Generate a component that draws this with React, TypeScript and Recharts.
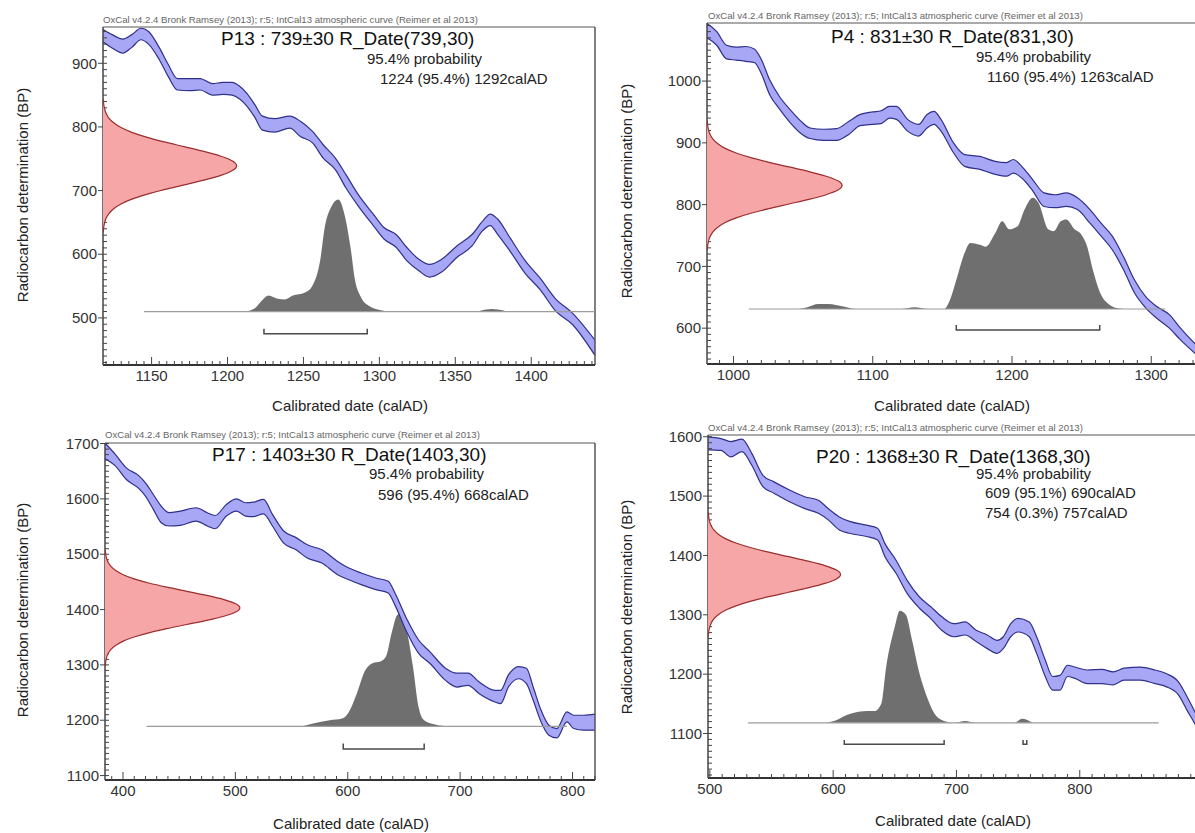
import { ComposedChart, Area, Line, XAxis, YAxis, ReferenceLine } from "recharts";

const FONT = "'Liberation Sans', Arial, Helvetica, sans-serif";

const oxcalNote =
  "OxCal v4.2.4 Bronk Ramsey (2013); r:5; IntCal13 atmospheric curve (Reimer et al 2013)";
const xTitle = "Calibrated date (calAD)";
const yTitle = "Radiocarbon determination (BP)";

// shape of the R_Date (relative height, offsets in sigma)
const rdateOffsets = [
  -3.5, -3.25, -3, -2.75, -2.5, -2.25, -2, -1.75, -1.5, -1.25, -1, -0.75, -0.5, -0.25, 0,
  0.25, 0.5, 0.75, 1, 1.25, 1.5, 1.75, 2, 2.25, 2.5, 2.75, 3, 3.25, 3.5,
];
const rdateShape = [
  0.002, 0.005, 0.011, 0.023, 0.044, 0.08, 0.135, 0.216, 0.325, 0.458, 0.607, 0.755, 0.882, 0.969, 1,
  0.969, 0.882, 0.755, 0.607, 0.458, 0.325, 0.216, 0.135, 0.08, 0.044, 0.023, 0.011, 0.005, 0.002,
];

// ---- P13
const p13Years = [1118, 1124, 1131, 1137, 1143, 1148, 1155, 1161, 1167, 1175, 1182, 1190, 1197, 1203, 1208, 1213, 1218, 1223, 1231, 1241, 1248, 1256, 1263, 1271, 1278, 1286, 1296, 1303, 1311, 1318, 1326, 1333, 1341, 1351, 1361, 1368, 1373, 1378, 1386, 1396, 1406, 1416, 1427, 1442];
const p13Hi = [953, 945, 938, 945, 955, 950, 925, 898, 876, 876, 876, 868, 870, 870, 864, 852, 835, 817, 813, 817, 809, 793, 772, 751, 725, 694, 663, 642, 631, 611, 592, 584, 592, 613, 631, 652, 663, 655, 626, 590, 562, 530, 508, 465];
const p13Lo = [934, 924, 916, 925, 937, 930, 906, 879, 858, 857, 858, 850, 851, 850, 844, 832, 815, 795, 792, 798, 785, 775, 751, 733, 704, 676, 645, 624, 611, 590, 574, 564, 572, 595, 613, 637, 645, 631, 605, 570, 544, 511, 490, 441];
const p13PostYears = [1212, 1218, 1223, 1227, 1233, 1238, 1243, 1251, 1256, 1261, 1264, 1268, 1273, 1277, 1281, 1284, 1288, 1293, 1301, 1308, 1364, 1370, 1374, 1378, 1384];
const p13PostTop = [510, 515, 528, 535, 530, 529, 535, 540, 551, 590, 642, 673, 686, 663, 611, 559, 532, 519, 512, 510, 510, 513, 514, 513, 510];
const p13Base = 510;
const p13Span = [1145, 1442];
const p13Ranges = [[1224, 1292]];
const p13Bracket = [475, 483];
const p13Date = [739, 30];
const p13Peak = 1206;
const p13Title = "P13 : 739±30 R_Date(739,30)";
const p13Text = ["95.4% probability", "1224 (95.4%) 1292calAD"];
const p13XLabels = [1150, 1200, 1250, 1300, 1350, 1400];
const p13YLabels = [500, 600, 700, 800, 900];

// ---- P4
const p4Years = [981, 988, 995, 1002, 1009, 1015, 1020, 1026, 1033, 1041, 1048, 1055, 1065, 1074, 1083, 1091, 1100, 1106, 1112, 1117, 1125, 1133, 1139, 1144, 1149, 1158, 1166, 1177, 1188, 1196, 1201, 1207, 1215, 1223, 1231, 1239, 1247, 1256, 1264, 1272, 1280, 1288, 1296, 1304, 1313, 1321, 1331, 1335];
const p4Hi = [1093, 1080, 1058, 1055, 1056, 1052, 1035, 1002, 975, 953, 936, 924, 922, 923, 935, 946, 950, 952, 959, 959, 938, 930, 946, 951, 938, 900, 881, 878, 870, 868, 873, 862, 840, 819, 816, 819, 811, 792, 770, 749, 716, 678, 651, 635, 622, 600, 576, 568];
const p4Lo = [1070, 1058, 1036, 1034, 1032, 1030, 1012, 978, 955, 932, 916, 907, 904, 904, 914, 928, 930, 931, 940, 938, 919, 911, 924, 930, 919, 884, 862, 857, 849, 846, 851, 843, 822, 797, 795, 797, 792, 770, 749, 727, 695, 657, 633, 616, 600, 581, 560, 552];
const p4PostYears = [1012, 1045, 1053, 1061, 1068, 1079, 1088, 1120, 1130, 1140, 1151, 1156, 1160, 1166, 1170, 1177, 1181, 1188, 1193, 1198, 1204, 1209, 1215, 1219, 1226, 1230, 1235, 1239, 1245, 1250, 1254, 1258, 1264, 1270, 1277, 1285];
const p4PostTop = [631, 631, 634, 639, 639, 635, 631, 631, 634, 631, 631, 649, 678, 722, 738, 735, 732, 754, 773, 760, 765, 792, 811, 803, 760, 757, 773, 776, 760, 751, 732, 695, 654, 638, 632, 631];
const p4Base = 631;
const p4Span = [1011, 1310];
const p4Ranges = [[1160, 1263]];
const p4Bracket = [597, 605];
const p4Date = [831, 30];
const p4Peak = 1078;
const p4Title = "P4 : 831±30 R_Date(831,30)";
const p4Text = ["95.4% probability", "1160 (95.4%) 1263calAD"];
const p4XLabels = [1000, 1100, 1200, 1300];
const p4YLabels = [600, 700, 800, 900, 1000];

// ---- P17
const p17Years = [384, 393, 403, 414, 420, 427, 434, 441, 451, 465, 475, 482, 492, 501, 509, 516, 525, 533, 543, 554, 564, 577, 591, 601, 612, 625, 636, 642, 653, 663, 673, 687, 697, 707, 717, 731, 736, 743, 752, 759, 765, 772, 779, 786, 795, 801, 810, 820];
const p17Hi = [1701, 1681, 1656, 1642, 1629, 1608, 1587, 1575, 1578, 1584, 1575, 1570, 1590, 1600, 1593, 1594, 1599, 1572, 1542, 1530, 1517, 1508, 1487, 1475, 1466, 1457, 1451, 1430, 1381, 1345, 1324, 1294, 1285, 1285, 1269, 1254, 1254, 1282, 1297, 1294, 1260, 1218, 1191, 1185, 1215, 1209, 1209, 1211];
const p17Lo = [1673, 1660, 1635, 1619, 1605, 1581, 1557, 1551, 1552, 1560, 1551, 1546, 1569, 1578, 1569, 1568, 1573, 1551, 1520, 1508, 1493, 1484, 1463, 1454, 1445, 1436, 1430, 1408, 1357, 1321, 1303, 1272, 1260, 1263, 1248, 1233, 1230, 1260, 1275, 1266, 1236, 1197, 1173, 1168, 1197, 1185, 1182, 1182];
const p17PostYears = [560, 571, 584, 595, 601, 608, 615, 622, 629, 634, 639, 644, 647, 653, 658, 663, 668, 676, 687];
const p17PostTop = [1189, 1195, 1200, 1203, 1215, 1248, 1288, 1303, 1306, 1315, 1357, 1390, 1393, 1357, 1297, 1224, 1200, 1193, 1189];
const p17Base = 1189;
const p17Span = [421, 795];
const p17Ranges = [[596, 668]];
const p17Bracket = [1148, 1158];
const p17Date = [1403, 30];
const p17Peak = 504;
const p17Title = "P17 : 1403±30 R_Date(1403,30)";
const p17Text = ["95.4% probability", "596 (95.4%) 668calAD"];
const p17XLabels = [400, 500, 600, 700, 800];
const p17YLabels = [1100, 1200, 1300, 1400, 1500, 1600, 1700];

// ---- P20
const p20Years = [498.5, 509, 517, 526, 534, 543, 552, 565, 577, 588, 596, 605, 614, 627, 636, 642, 651, 660, 670, 679, 688, 698, 707, 716, 725, 733, 738, 744, 750, 759, 765, 772, 778, 784, 790, 796, 806, 818, 827, 836, 849, 861, 870, 880, 887, 894, 897.5];
const p20Hi = [1600, 1597, 1592, 1596, 1572, 1535, 1524, 1510, 1499, 1493, 1479, 1465, 1457, 1451, 1446, 1420, 1392, 1358, 1330, 1314, 1297, 1285, 1288, 1274, 1266, 1257, 1263, 1285, 1294, 1288, 1263, 1224, 1196, 1198, 1215, 1212, 1207, 1208, 1204, 1210, 1212, 1207, 1201, 1187, 1162, 1134, 1120];
const p20Lo = [1578, 1577, 1566, 1575, 1552, 1516, 1505, 1490, 1479, 1471, 1460, 1443, 1437, 1432, 1426, 1398, 1370, 1336, 1311, 1294, 1274, 1263, 1266, 1255, 1243, 1235, 1243, 1263, 1271, 1263, 1235, 1196, 1173, 1173, 1196, 1193, 1184, 1184, 1182, 1190, 1190, 1184, 1179, 1165, 1139, 1114, 1100];
const p20PostYears = [593, 602, 611, 617, 627, 634, 639, 643, 650, 654, 659, 664, 670, 676, 682, 690, 698, 707, 716, 747, 753, 762];
const p20PostTop = [1118, 1122, 1131, 1135, 1138, 1138, 1150, 1212, 1280, 1307, 1300, 1257, 1201, 1162, 1134, 1121, 1118, 1121, 1118, 1118, 1125, 1118];
const p20Base = 1118;
const p20Span = [531, 864];
const p20Ranges = [[609, 690], [754, 757]];
const p20Bracket = [1082, 1089];
const p20Date = [1368, 30];
const p20Peak = 606;
const p20Title = "P20 : 1368±30 R_Date(1368,30)";
const p20Text = ["95.4% probability", "609 (95.1%) 690calAD", "754 (0.3%) 757calAD"];
const p20XLabels = [500, 600, 700, 800];
const p20YLabels = [1100, 1200, 1300, 1400, 1500, 1600];

const panels = [
  { years: p13Years, hi: p13Hi, lo: p13Lo, postYears: p13PostYears, postTop: p13PostTop, base: p13Base, span: p13Span, ranges: p13Ranges, bracket: p13Bracket, date: p13Date, peak: p13Peak, title: p13Title, text: p13Text, xLabels: p13XLabels, yLabels: p13YLabels },
  { years: p4Years, hi: p4Hi, lo: p4Lo, postYears: p4PostYears, postTop: p4PostTop, base: p4Base, span: p4Span, ranges: p4Ranges, bracket: p4Bracket, date: p4Date, peak: p4Peak, title: p4Title, text: p4Text, xLabels: p4XLabels, yLabels: p4YLabels },
  { years: p17Years, hi: p17Hi, lo: p17Lo, postYears: p17PostYears, postTop: p17PostTop, base: p17Base, span: p17Span, ranges: p17Ranges, bracket: p17Bracket, date: p17Date, peak: p17Peak, title: p17Title, text: p17Text, xLabels: p17XLabels, yLabels: p17YLabels },
  { years: p20Years, hi: p20Hi, lo: p20Lo, postYears: p20PostYears, postTop: p20PostTop, base: p20Base, span: p20Span, ranges: p20Ranges, bracket: p20Bracket, date: p20Date, peak: p20Peak, title: p20Title, text: p20Text, xLabels: p20XLabels, yLabels: p20YLabels },
];

// page layout of each panel (plot frame in page pixels)
const layouts = [
  { left: 103, top: 27, right: 595, bottom: 365, x: [1118, 1442], y: [426, 957], xStep: 5, note: [103, 20], title: [221, 38], lines: [[367, 58], [380, 78]], yT: [22, 195], xT: [350, 405] },
  { left: 707, top: 23, right: 1200, bottom: 364, x: [981, 1335], y: [542, 1094], xStep: 10, note: [708, 16], title: [831, 36], lines: [[976, 56], [987, 76]], yT: [626, 191], xT: [952, 405] },
  { left: 105, top: 443, right: 595, bottom: 780, x: [384, 820], y: [1092, 1701], xStep: 10, note: [105, 435], title: [212, 454], lines: [[369, 473], [378, 494]], yT: [22, 610], xT: [351, 823] },
  { left: 708, top: 435, right: 1200, bottom: 778, x: [498.5, 897.5], y: [1025, 1603], xStep: 10, note: [708, 428], title: [816, 456], lines: [[976, 473], [985, 492], [985, 512]], yT: [626, 607], xT: [953, 820] },
];

const ML = 60;
const MT = 10;
const MR = 10;
const MB = 40;

function steps(from: number, to: number, step: number) {
  const out: number[] = [];
  for (let v = Math.ceil(from / step) * step; v <= to; v += step) out.push(v);
  return out;
}

const makeXTick = (labels: number[]) => (props: any) => {
  const { x, y, payload } = props;
  const major = labels.includes(payload.value);
  return (
    <g>
      <line x1={x} x2={x} y1={y} y2={y - (major ? 8 : 4)} stroke="#444" strokeWidth={1} />
      {major && (
        <text x={x} y={y + 11} dy="0.35em" textAnchor="middle" fontSize={15} fontFamily={FONT} fill="#333">
          {payload.value}
        </text>
      )}
    </g>
  );
};

const makeYTick = (labels: number[]) => (props: any) => {
  const { x, y, payload } = props;
  const major = labels.includes(payload.value);
  return (
    <g>
      <line x1={major ? x - 5 : x} x2={x + 4} y1={y} y2={y} stroke="#444" strokeWidth={1} />
      {major && (
        <text x={x - 6} y={y} dy="0.35em" textAnchor="end" fontSize={15} fontFamily={FONT} fill="#333">
          {payload.value}
        </text>
      )}
    </g>
  );
};

function Label({ x, y, size, color, children }: any) {
  return (
    <div
      style={{
        position: "absolute",
        left: x,
        top: y,
        transform: "translateY(-50%)",
        fontFamily: FONT,
        fontSize: size,
        lineHeight: 1,
        color,
        whiteSpace: "nowrap",
      }}
    >
      {children}
    </div>
  );
}

function Panel({ p, l }: any) {
  const plotW = l.right - l.left;
  const plotH = l.bottom - l.top;
  const W = ML + plotW + MR;
  const H = MT + plotH + MB;

  const curveData = p.years.map((year: number, i: number) => ({ year, band: [p.lo[i], p.hi[i]] }));
  const postData = p.postYears.map((year: number, i: number) => ({ year, band: [p.base, p.postTop[i]] }));
  const baseData = p.span.map((year: number) => ({ year, v: p.base }));
  const bracketData = p.ranges.map(([a, b]: number[]) => [
    { year: a, v: p.bracket[1] },
    { year: a, v: p.bracket[0] },
    { year: b, v: p.bracket[0] },
    { year: b, v: p.bracket[1] },
  ]);
  const redData = rdateOffsets.map((o, i) => ({
    bp: p.date[0] + o * p.date[1],
    x: l.x[0] + (p.peak - l.x[0]) * rdateShape[i],
  }));

  const xTicks = steps(l.x[0], l.x[1], l.xStep);
  const yTicks = steps(l.y[0], l.y[1], 10);

  return (
    <>
      <div style={{ position: "absolute", left: l.left - ML, top: l.top - MT, width: W, height: H }}>
        <ComposedChart width={W} height={H} margin={{ top: MT, right: MR, bottom: 0, left: 0 }}>
          <XAxis
            type="number"
            dataKey="year"
            domain={l.x}
            allowDataOverflow
            ticks={xTicks}
            interval={0}
            tickSize={0}
            tickMargin={0}
            tickLine={false}
            height={MB}
            axisLine={{ stroke: "#333", strokeWidth: 2 }}
            tick={makeXTick(p.xLabels)}
          />
          <YAxis
            type="number"
            domain={l.y}
            allowDataOverflow
            ticks={yTicks}
            interval={0}
            tickSize={0}
            tickMargin={0}
            tickLine={false}
            width={ML}
            axisLine={{ stroke: "#444", strokeWidth: 1.5 }}
            tick={makeYTick(p.yLabels)}
          />
          <ReferenceLine y={l.y[1]} stroke="#555" strokeWidth={1} />
          <ReferenceLine x={l.x[1]} stroke="#555" strokeWidth={1.5} />
          <Area
            data={postData}
            dataKey="band"
            type="monotone"
            fill="#6f6f6f"
            fillOpacity={1}
            stroke="none"
            isAnimationActive={false}
          />
          <Line
            data={baseData}
            dataKey="v"
            type="linear"
            stroke="#9c9c9c"
            strokeWidth={1.2}
            dot={false}
            activeDot={false}
            isAnimationActive={false}
          />
          <Area
            data={curveData}
            dataKey="band"
            type="monotone"
            fill="#a7a7f5"
            fillOpacity={1}
            stroke="#30308a"
            strokeWidth={1.2}
            isAnimationActive={false}
          />
          {bracketData.map((d: any, i: number) => (
            <Line
              key={i}
              data={d}
              dataKey="v"
              type="linear"
              stroke="#4a4a4a"
              strokeWidth={1.5}
              dot={false}
              activeDot={false}
              isAnimationActive={false}
            />
          ))}
        </ComposedChart>
      </div>
      <div style={{ position: "absolute", left: l.left - ML, top: l.top - MT, width: W, height: H }}>
        <ComposedChart layout="vertical" width={W} height={H} margin={{ top: MT, right: MR, bottom: MB, left: ML }}>
          <XAxis type="number" domain={l.x} allowDataOverflow hide />
          <YAxis type="number" dataKey="bp" domain={l.y} allowDataOverflow reversed hide />
          <Area
            data={redData}
            dataKey="x"
            type="monotone"
            fill="#f6a6a6"
            fillOpacity={1}
            stroke="#9a2e2e"
            strokeWidth={1.2}
            isAnimationActive={false}
          />
        </ComposedChart>
      </div>
      <Label x={l.note[0]} y={l.note[1]} size={9.6} color="#666">{oxcalNote}</Label>
      <Label x={l.title[0]} y={l.title[1]} size={19} color="#111">{p.title}</Label>
      {p.text.map((t: string, i: number) => (
        <Label key={i} x={l.lines[i][0]} y={l.lines[i][1]} size={15} color="#222">{t}</Label>
      ))}
      <div
        style={{
          position: "absolute",
          left: l.xT[0],
          top: l.xT[1],
          transform: "translate(-50%, -50%)",
          fontFamily: FONT,
          fontSize: 15,
          lineHeight: 1,
          color: "#222",
          whiteSpace: "nowrap",
        }}
      >
        {xTitle}
      </div>
      <div
        style={{
          position: "absolute",
          left: l.yT[0],
          top: l.yT[1],
          transform: "translate(-50%, -50%) rotate(-90deg)",
          fontFamily: FONT,
          fontSize: 15,
          lineHeight: 1,
          color: "#222",
          whiteSpace: "nowrap",
        }}
      >
        {yTitle}
      </div>
    </>
  );
}

export default function App() {
  return (
    <div
      style={{
        position: "absolute",
        left: 0,
        top: 0,
        width: 1195,
        height: 833,
        overflow: "hidden",
        background: "#fff",
      }}
    >
      {panels.map((p, i) => (
        <Panel key={i} p={p} l={layouts[i]} />
      ))}
    </div>
  );
}
